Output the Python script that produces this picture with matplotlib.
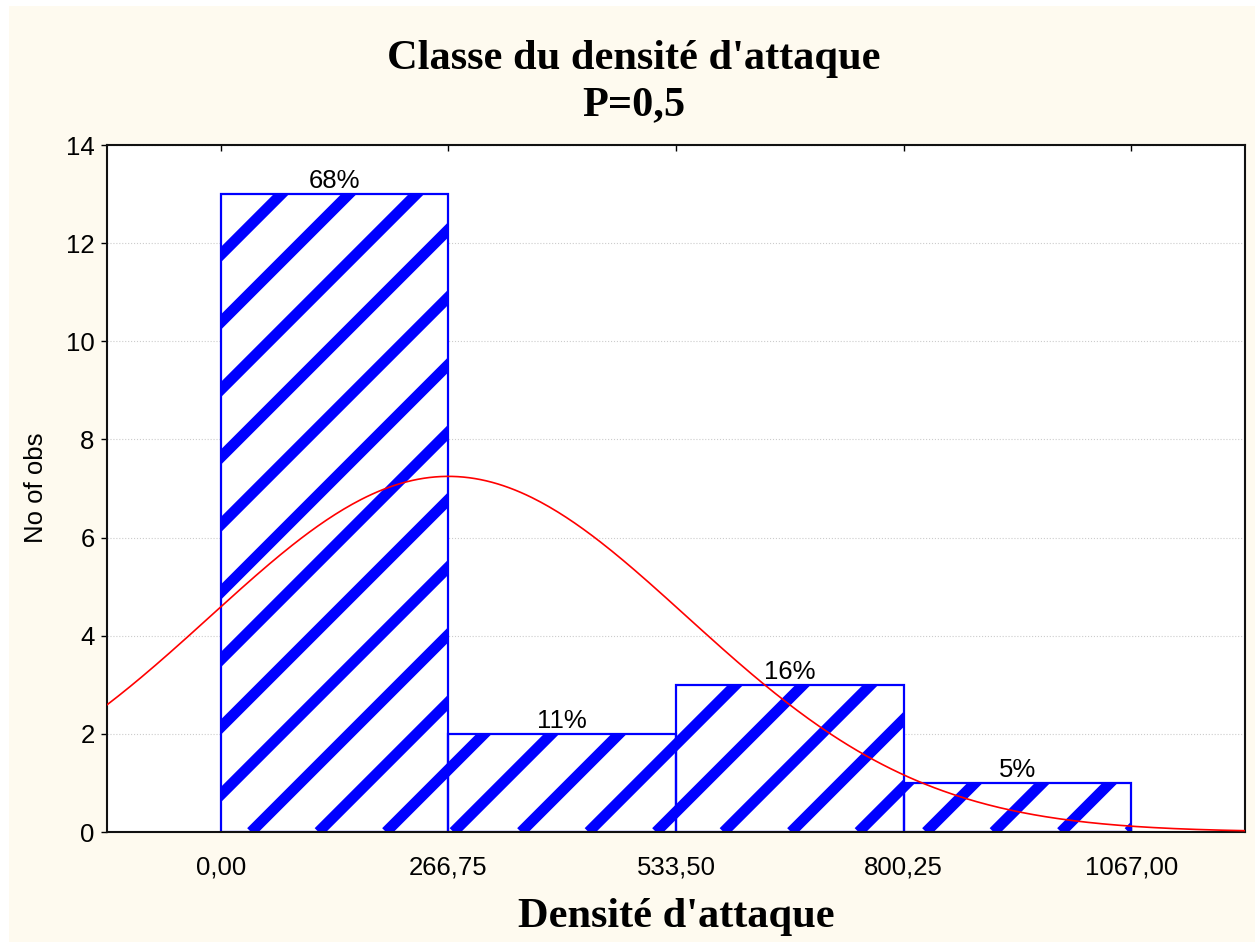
import numpy as np
import matplotlib
matplotlib.use('Agg')
import matplotlib.pyplot as plt
from matplotlib.patches import Rectangle
from matplotlib.collections import LineCollection

# data
bin_edges   = [0.0, 266.75, 533.5, 800.25, 1067.0]
counts      = [13, 2, 3, 1]
pct_labels  = ['68%', '11%', '16%', '5%']
tick_labels = ['0,00', '266,75', '533,50', '800,25', '1067,00']
y_ticks     = [0, 2, 4, 6, 8, 10, 12, 14]
norm_mean   = 266.75
norm_sd     = 279.0

C_BG   = '#FEFAEF'
C_BLUE = '#0000FF'
C_RED  = '#FF0000'
SANS   = 'Liberation Sans'
SERIF  = 'Liberation Serif'
FS_TICK  = 18.5
FS_TITLE = 30.5

W, H = 1255, 942
fig = plt.figure(figsize=(W / 100, H / 100), dpi=100, facecolor='white')
fig.add_artist(Rectangle((9 / W, 0), 1, 1 - 6 / H, transform=fig.transFigure,
                         facecolor=C_BG, edgecolor='none', zorder=-10))

ax_l, ax_r, ax_t, ax_b = 107, 1245, 145, 832
ax = fig.add_axes([ax_l / W, 1 - ax_b / H, (ax_r - ax_l) / W, (ax_b - ax_t) / H])
ax.set_facecolor('white')

edges = np.array(bin_edges)
width = edges[1] - edges[0]
lefts = edges[:-1]

# white bars (clip shapes for the stripes)
bars = ax.bar(lefts, counts, width=width, align='edge', color='white',
              edgecolor='none', zorder=1)

# thick diagonal stripes, 45 deg in pixel space
aw, ah = ax_r - ax_l, ax_b - ax_t
step = 67.5
x0s = 144 - step * np.arange(-20, 40)
segs = [[(x / aw, 0), ((x + ah) / aw, 1)] for x in x0s]
for b in bars:
    lc = LineCollection(segs, colors=C_BLUE, linewidths=7.8,
                        transform=ax.transAxes, zorder=1.5)
    ax.add_collection(lc, autolim=False)
    lc.set_clip_path(b)

# bar outlines
ax.bar(lefts, counts, width=width, align='edge', fill=False,
       edgecolor=C_BLUE, linewidth=1.6, zorder=2)

# fitted normal curve (expected counts)
xlim = (edges[0] - width / 2, edges[-1] + width / 2)
xs = np.linspace(*xlim, 400)
n = sum(counts)
ys = n * width * np.exp(-0.5 * ((xs - norm_mean) / norm_sd) ** 2) / (norm_sd * np.sqrt(2 * np.pi))
ax.plot(xs, ys, color=C_RED, linewidth=1.2, zorder=4)

# percentage labels
for left, c, lab in zip(lefts, counts, pct_labels):
    ax.text(left + width / 2, c + 0.02, lab, ha='center', va='bottom',
            fontsize=FS_TICK, family=SANS, zorder=5)

ax.set_xlim(*xlim)
ax.set_ylim(0, 14)
ax.set_xticks(edges)
ax.set_xticklabels(tick_labels, family=SANS, fontsize=FS_TICK)
ax.set_yticks(y_ticks)
ax.set_yticklabels([str(v) for v in y_ticks], family=SANS, fontsize=FS_TICK)
ax.tick_params(axis='x', direction='in', top=True, length=4, width=1, pad=17)
ax.tick_params(axis='y', direction='out', length=4, width=1, pad=5)
ax.yaxis.grid(True, color='#cccccc', linestyle=':', linewidth=0.8, zorder=0)
ax.set_axisbelow(True)
for sp in ax.spines.values():
    sp.set_linewidth(1.5)
    sp.set_color('#111111')

fig.text(633.5 / W, 1 - 82 / H, "Classe du densité d'attaque\nP=0,5",
         ha='center', va='center', fontsize=FS_TITLE, fontweight='bold',
         family=SERIF, linespacing=1.27)
fig.text(676 / W, 1 - 917 / H, "Densité d'attaque", ha='center', va='center',
         fontsize=FS_TITLE, fontweight='bold', family=SERIF)
fig.text(36 / W, 1 - 488 / H, 'No of obs', ha='center', va='center',
         rotation=90, fontsize=FS_TICK, family=SANS)

fig.savefig('out.png', dpi=100)
